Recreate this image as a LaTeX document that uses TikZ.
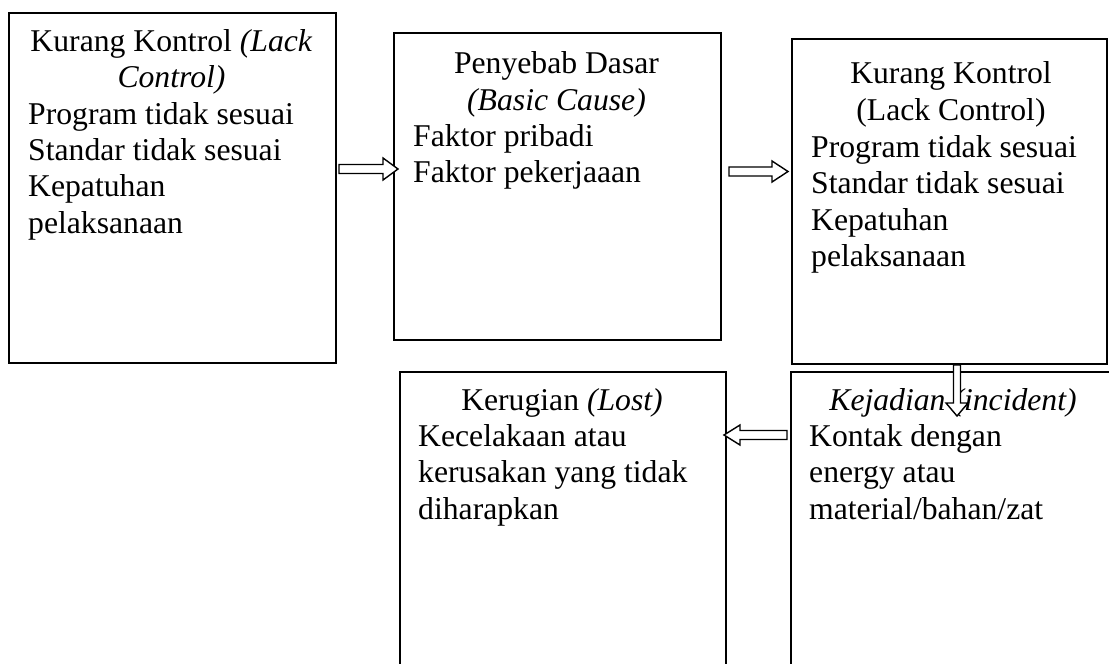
\documentclass[tikz,border=0pt]{standalone}
\usepackage{fontspec}
\setmainfont{Liberation Serif}
\usetikzlibrary{calc}
\begin{document}
\begin{tikzpicture}[x=1bp,y=-1bp,
  box/.style={draw, line width=2bp, inner sep=0pt, anchor=north west},
  txt/.style={inner sep=0pt, font=\fontsize{31.8pt}{36.4pt}\selectfont},
  lft/.style={txt, anchor=base west},
  ctr/.style={txt, anchor=base},
  hollow/.style={draw, line width=1.4bp, fill=white, line join=miter}]
\useasboundingbox (0,0) rectangle (1109,664);
\clip (0,0) rectangle (1109,664);

% boxes
\node[box, minimum width=327bp, minimum height=350bp] (lackA) at (8,12) {};
\node[box, minimum width=327bp, minimum height=307bp] (basic) at (393,32) {};
\node[box, minimum width=315bp, minimum height=325bp] (lackB) at (791,38) {};
\node[box, minimum width=326bp, minimum height=330bp] (lost) at (399,371) {};
\node[box, minimum width=326bp, minimum height=330bp] (incid) at (790,371) {};

% first box
\node[ctr] (a1) at (171.5,52) {Kurang Kontrol \textit{(Lack}};
\node[ctr] (a2) at (171.5,88) {\textit{Control)}};
\node[lft] (a3) at (28,125) {Program tidak sesuai};
\node[lft] (a4) at (28,161) {Standar tidak sesuai};
\node[lft] (a5) at (28,197) {Kepatuhan};
\node[lft] (a6) at (28,233) {pelaksanaan};

% second box
\node[ctr] (b1) at (556.5,74) {Penyebab Dasar};
\node[ctr] (b2) at (556.5,110.5) {\textit{(Basic Cause)}};
\node[lft] (b3) at (413,147) {Faktor pribadi};
\node[lft] (b4) at (413,183) {Faktor pekerjaaan};

% third box
\node[ctr] (c1) at (951,84) {Kurang Kontrol};
\node[ctr] (c2) at (951,121) {(Lack Control)};
\node[lft] (c3) at (811,158) {Program tidak sesuai};
\node[lft] (c4) at (811,194) {Standar tidak sesuai};
\node[lft] (c5) at (811,230) {Kepatuhan};
\node[lft] (c6) at (811,266) {pelaksanaan};

% fourth box
\node[ctr] (d1) at (562,410) {Kerugian \textit{(Lost)}};
\node[lft] (d2) at (418,446) {Kecelakaan atau};
\node[lft] (d3) at (418,482) {kerusakan yang tidak};
\node[lft] (d4) at (418,519) {diharapkan};

% fifth box
\node[ctr] (e1) at (953,410) {\textit{Kejadian (incident)}};
\node[lft] (e2) at (809,446) {Kontak dengan};
\node[lft] (e3) at (809,482) {energy atau};
\node[lft] (e4) at (809,519) {material/bahan/zat};

% hollow block arrows between the boxes
\coordinate (t1) at ($(lackA.east |- 0,169)+(2,0)$);
\coordinate (h1) at ($(basic.west |- 0,169)+(5,0)$);
\draw[hollow] ($(t1)+(0,-4.5)$) -- ($(h1)+(-15,-4.5)$) -- ($(h1)+(-15,-11)$) -- (h1)
  -- ($(h1)+(-15,11)$) -- ($(h1)+(-15,4.5)$) -- ($(t1)+(0,4.5)$) -- cycle;

\coordinate (t2) at ($(basic.east |- 0,171.5)+(7,0)$);
\coordinate (h2) at ($(lackB.west |- 0,171.5)+(-3,0)$);
\draw[hollow] ($(t2)+(0,-4.5)$) -- ($(h2)+(-16,-4.5)$) -- ($(h2)+(-16,-10.5)$) -- (h2)
  -- ($(h2)+(-16,10.5)$) -- ($(h2)+(-16,4.5)$) -- ($(t2)+(0,4.5)$) -- cycle;

\coordinate (t3) at (lackB.south -| 957,0);
\coordinate (h3) at ($(incid.north -| 957,0)+(0,45)$);
\draw[hollow] ($(t3)+(-3.5,0)$) -- ($(h3)+(-3.5,-13)$) -- ($(h3)+(-11,-13)$) -- (h3)
  -- ($(h3)+(11,-13)$) -- ($(h3)+(3.5,-13)$) -- ($(t3)+(3.5,0)$) -- cycle;

\coordinate (t4) at ($(incid.west |- 0,435)+(-3,0)$);
\coordinate (h4) at ($(lost.east |- 0,435)+(-3,0)$);
\draw[hollow] ($(t4)+(0,-4.5)$) -- ($(h4)+(16,-4.5)$) -- ($(h4)+(16,-10)$) -- (h4)
  -- ($(h4)+(16,10)$) -- ($(h4)+(16,4.5)$) -- ($(t4)+(0,4.5)$) -- cycle;
\end{tikzpicture}
\end{document}
